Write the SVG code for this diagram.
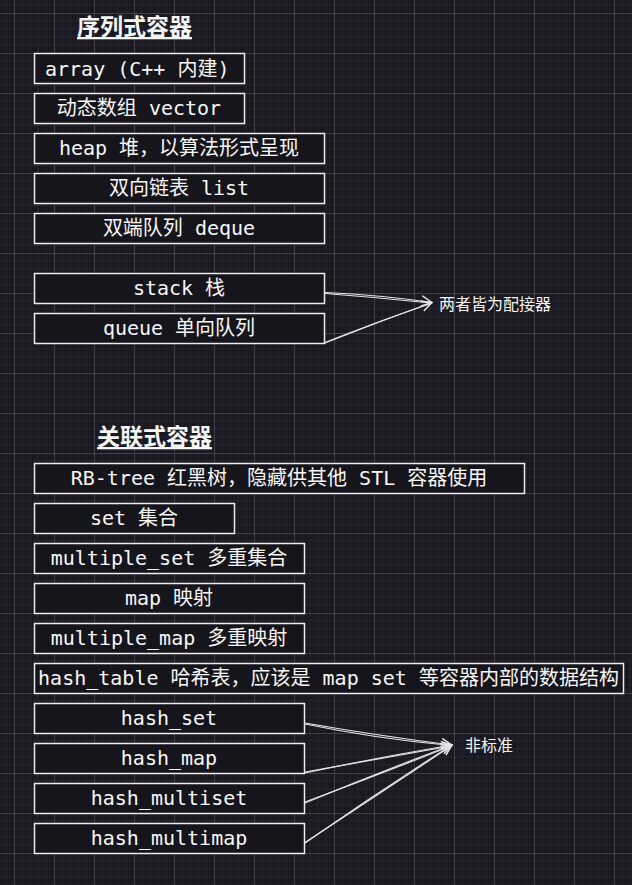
<svg xmlns="http://www.w3.org/2000/svg" width="632" height="885" viewBox="0 0 632 885">
<defs>
<pattern id="grid" patternUnits="userSpaceOnUse" x="14" y="13" width="40" height="40">
<path d="M8 0V40M16 0V40M24 0V40M32 0V40M0 8H40M0 16H40M0 24H40M0 32H40" stroke="#25232b" stroke-width="1" fill="none"/>
<path d="M0.5 0V40M0 0.5H40" stroke="#413f47" stroke-width="1" fill="none"/>
</pattern>
<marker id="arr" viewBox="0 0 12 12" refX="11" refY="6" markerWidth="12" markerHeight="12" markerUnits="userSpaceOnUse" orient="auto">
<path d="M1 1 L11 6 L1 11" fill="none" stroke="#e6e6e6" stroke-width="1.5" stroke-linejoin="round" stroke-linecap="round"/>
</marker>
<style>
.box rect{fill:#17151c;stroke:#ececec;stroke-width:1.5}
.box text{font-family:"DejaVu Sans Mono","Noto Sans CJK SC",monospace;font-size:20px;fill:#f7f7f7;text-anchor:middle}
.title{font-family:"Noto Sans CJK SC","Noto Sans",sans-serif;font-size:23px;font-weight:bold;fill:#f4f4f4;text-decoration:underline}
.lbl{font-family:"Noto Sans CJK SC","Noto Sans",sans-serif;font-size:16px;fill:#f4f4f4}
.conn path{fill:none;stroke:#e2e2e2;stroke-width:1.2;stroke-linecap:round}
</style>
</defs>
<rect width="632" height="885" fill="#1a1820"/>
<rect width="632" height="885" fill="url(#grid)"/>

<text id="title-seq" class="title" x="77" y="35">序列式容器</text>
<text id="title-assoc" class="title" x="97" y="445">关联式容器</text>

<g id="array" class="box"><rect x="34.5" y="53.5" width="210" height="30"/><text x="45" y="76" style="text-anchor:start">array (C++ 内建)</text></g>
<g id="vector" class="box"><rect x="34.5" y="93.5" width="210" height="30"/><text x="139" y="115">动态数组 vector</text></g>
<g id="heap" class="box"><rect x="34.5" y="133.5" width="290" height="30"/><text x="179" y="155">heap 堆，以算法形式呈现</text></g>
<g id="list" class="box"><rect x="34.5" y="173.5" width="290" height="30"/><text x="179" y="195">双向链表 list</text></g>
<g id="deque" class="box"><rect x="34.5" y="213.5" width="290" height="30"/><text x="179" y="235">双端队列 deque</text></g>
<g id="stack" class="box"><rect x="34.5" y="273.5" width="290" height="30"/><text x="179" y="295">stack 栈</text></g>
<g id="queue" class="box"><rect x="34.5" y="313.5" width="290" height="30"/><text x="179" y="335">queue 单向队列</text></g>

<g id="rbtree" class="box"><rect x="34.5" y="463.5" width="490" height="30"/><text x="279" y="485">RB-tree 红黑树，隐藏供其他 STL 容器使用</text></g>
<g id="set" class="box"><rect x="34.5" y="503.5" width="200" height="30"/><text x="134" y="525">set 集合</text></g>
<g id="multiset" class="box"><rect x="34.5" y="543.5" width="270" height="30"/><text x="169" y="565">multiple_set 多重集合</text></g>
<g id="map" class="box"><rect x="34.5" y="583.5" width="270" height="30"/><text x="169" y="605">map 映射</text></g>
<g id="multimap" class="box"><rect x="34.5" y="623.5" width="270" height="30"/><text x="169" y="645">multiple_map 多重映射</text></g>
<g id="hashtable" class="box"><rect x="34.5" y="663.5" width="589" height="30"/><text x="328.5" y="685">hash_table 哈希表，应该是 map set 等容器内部的数据结构</text></g>
<g id="hashset" class="box"><rect x="34.5" y="703.5" width="270" height="30"/><text x="169" y="725">hash_set</text></g>
<g id="hashmap" class="box"><rect x="34.5" y="743.5" width="270" height="30"/><text x="169" y="765">hash_map</text></g>
<g id="hashmultiset" class="box"><rect x="34.5" y="783.5" width="270" height="30"/><text x="169" y="805">hash_multiset</text></g>
<g id="hashmultimap" class="box"><rect x="34.5" y="823.5" width="270" height="30"/><text x="169" y="845">hash_multimap</text></g>

<text id="label-adapter" class="lbl" x="439" y="310">两者皆为配接器</text>
<text id="label-nonstd" class="lbl" x="465" y="751">非标准</text>

<g id="connectors" class="conn">
<path d="M325 292.5 Q380 295 432 302.5" marker-end="url(#arr)"/>
<path d="M325 293.5 Q378 297.5 431 303"/>
<path d="M325 343 Q378 322 432 302.5" marker-end="url(#arr)"/>
<path d="M325 342.5 Q379 321 431 303.5"/>
<path d="M305 723 Q380 736 452 745" marker-end="url(#arr)"/>
<path d="M305 724 Q378 739 451 745.5"/>
<path d="M305 773 Q380 757 452 745" marker-end="url(#arr)"/>
<path d="M305 772 Q378 759 451 746"/>
<path d="M305 803 Q380 772 452 745" marker-end="url(#arr)"/>
<path d="M305 802 Q378 775 451 746"/>
<path d="M305 843 Q378 792 452 745" marker-end="url(#arr)"/>
<path d="M305 842.5 Q379 794 451 746"/>
</g>
</svg>
